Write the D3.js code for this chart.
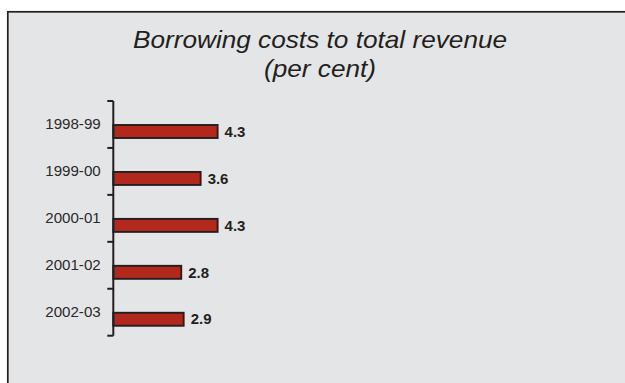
<!DOCTYPE html>
<html>
<head>
<meta charset="utf-8">
<script src="https://cdn.jsdelivr.net/npm/d3@7"></script>
<style>
  html, body { margin: 0; padding: 0; background: #ffffff; }
  svg { display: block; }
  text { font-family: "Liberation Sans", Arial, Helvetica, sans-serif; }
</style>
</head>
<body>
<svg id="chart" width="625" height="383"></svg>
<script>
// Borrowing costs as a share of total revenue, by financial year
const years = ["1998-99", "1999-00", "2000-01", "2001-02", "2002-03"];
const shares = [4.3, 3.6, 4.3, 2.8, 2.9];
const titleLines = ["Borrowing costs to total revenue", "(per cent)"];

const svg = d3.select("#chart");
const ink = "#231f20";

// panel with a dark border along the top and left
svg.append("rect")
  .attr("x", 7.8).attr("y", 11.8)
  .attr("width", 700).attr("height", 450)
  .attr("fill", "#e4e5e7")
  .attr("stroke", ink).attr("stroke-width", 1.7);

// title, two centred italic lines
svg.append("g").selectAll("text")
  .data(titleLines)
  .join("text")
  .attr("transform", (d, i) => `translate(320,${48.3 + i * 28.5}) scale(1.065,1)`)
  .attr("text-anchor", "middle")
  .attr("font-style", "italic")
  .attr("font-size", 24.6)
  .attr("fill", ink)
  .text(d => d);

const y = d3.scaleBand().domain(years).range([101, 335.7]).paddingInner(0).paddingOuter(0);
const x = d3.scaleLinear().domain([0, 5]).range([113.3, 234.6]);

// bars sit in the lower half of each band
const barOffset = 24, barHeight = 13;
svg.append("g").selectAll("rect")
  .data(years)
  .join("rect")
  .attr("x", x(0))
  .attr("y", d => y(d) + barOffset)
  .attr("width", (d, i) => x(shares[i]) - x(0))
  .attr("height", barHeight)
  .attr("fill", "#b2281d")
  .attr("stroke", ink)
  .attr("stroke-width", 1.9);

// category axis with ticks at band boundaries
const axis = d3.axisLeft(y).tickSize(0).tickPadding(0).tickFormat(() => "");
const axisG = svg.append("g").attr("transform", `translate(${x(0)},0)`).call(axis);
axisG.select(".domain").remove();
axisG.selectAll(".tick").remove();
axisG.append("line")
  .attr("x1", 0).attr("x2", 0)
  .attr("y1", y.range()[0]).attr("y2", y.range()[1])
  .attr("stroke", ink).attr("stroke-width", 2);
const boundaries = years.map(d => y(d)).concat([y.range()[1]]);
axisG.selectAll("line.bound")
  .data(boundaries)
  .join("line")
  .attr("class", "bound")
  .attr("x1", -6).attr("x2", 0)
  .attr("y1", d => d).attr("y2", d => d)
  .attr("stroke", ink).attr("stroke-width", 2);

// category labels, centred on each band
svg.append("g").selectAll("text")
  .data(years)
  .join("text")
  .attr("transform", d => `translate(100.7,${y(d) + y.bandwidth() / 2 + 5}) scale(1.08,1)`)
  .attr("text-anchor", "end")
  .attr("font-size", 14)
  .attr("fill", "#2a2a2a")
  .text(d => d);

// value labels at the end of each bar
svg.append("g").selectAll("text")
  .data(years)
  .join("text")
  .attr("transform", (d, i) => `translate(${x(shares[i]) + 7},${y(d) + barOffset + barHeight / 2 + 5.2}) scale(1.04,1)`)
  .attr("font-size", 14.4)
  .attr("font-weight", "bold")
  .attr("fill", ink)
  .text((d, i) => shares[i].toFixed(1));
</script>
</body>
</html>
